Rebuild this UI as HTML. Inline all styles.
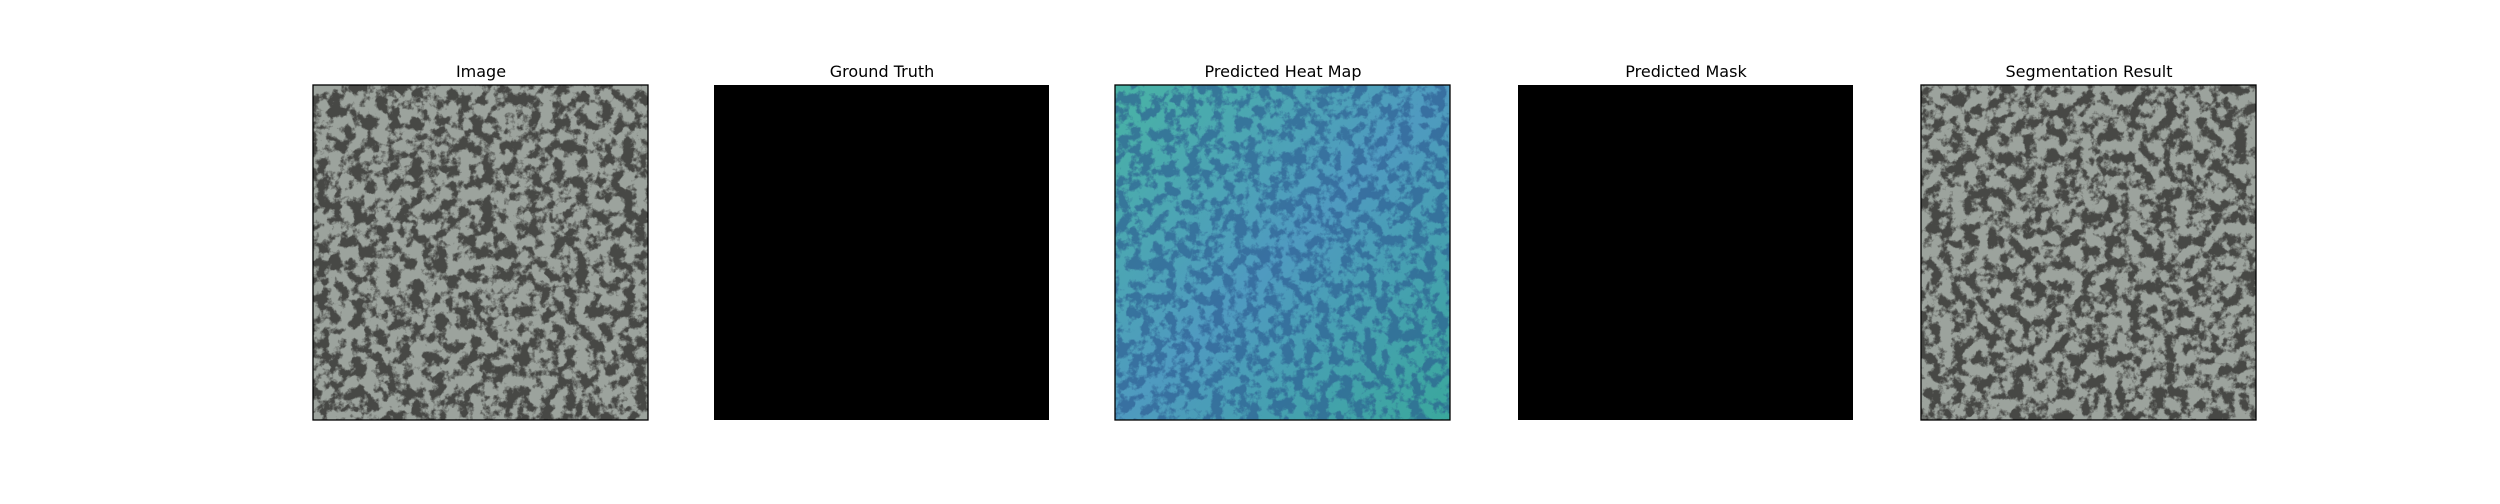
<!DOCTYPE html>
<html><head><meta charset="utf-8"><style>
body{margin:0;background:#fff;width:2500px;height:500px;overflow:hidden;font-family:"DejaVu Sans","Liberation Sans",sans-serif}
</style></head><body>
<svg width="2500" height="500" xmlns="http://www.w3.org/2000/svg">
<defs>
<filter id="tex" x="0" y="0" width="100%" height="100%" color-interpolation-filters="sRGB">
<feTurbulence type="fractalNoise" baseFrequency="0.085" numOctaves="4" seed="4"/>
<feColorMatrix type="matrix" values="0 0 0 0 0  0 0 0 0 0  0 0 0 0 0  3 0 0 0 -1.1"/>
<feComponentTransfer><feFuncA type="linear" slope="2.2" intercept="-0.5"/></feComponentTransfer>
<feColorMatrix type="matrix" values="0 0 0 0 0.25  0 0 0 0 0.25  0 0 0 0 0.24  0 0 0 0.92 0"/>
<feComposite in2="SourceGraphic" operator="over"/>
</filter>
<filter id="tex2" x="0" y="0" width="100%" height="100%" color-interpolation-filters="sRGB">
<feTurbulence type="fractalNoise" baseFrequency="0.085" numOctaves="4" seed="4"/>
<feColorMatrix type="matrix" values="0 0 0 0 0  0 0 0 0 0  0 0 0 0 0  3 0 0 0 -1.1"/>
<feComponentTransfer><feFuncA type="linear" slope="2.2" intercept="-0.5"/></feComponentTransfer>
<feColorMatrix type="matrix" values="0 0 0 0 0.16  0 0 0 0 0.33  0 0 0 0 0.55  0 0 0 0.6 0"/>
<feComposite in2="SourceGraphic" operator="over"/>
</filter>
<linearGradient id="hg" x1="0" y1="0" x2="1" y2="1">
<stop offset="0" stop-color="#48b3a4"/><stop offset="0.5" stop-color="#4f9ac0"/><stop offset="1" stop-color="#3aa89c"/>
</linearGradient>
</defs>
<g>
<text x="481" y="77" font-size="16" text-anchor="middle">Image</text>
<rect x="313" y="85" width="335" height="335" fill="#9ca39d" filter="url(#tex)"/>
<rect x="313" y="85" width="335" height="335" fill="none" stroke="#000" stroke-width="1.3"/>
</g>
<g>
<text x="882" y="77" font-size="16" text-anchor="middle">Ground Truth</text>
<rect x="714" y="85" width="335" height="335" fill="#000"/>
</g>
<g>
<text x="1283" y="77" font-size="16" text-anchor="middle">Predicted Heat Map</text>
<rect x="1115" y="85" width="335" height="335" fill="url(#hg)" filter="url(#tex2)"/>
<rect x="1115" y="85" width="335" height="335" fill="none" stroke="#000" stroke-width="1.3"/>
</g>
<g>
<text x="1686" y="77" font-size="16" text-anchor="middle">Predicted Mask</text>
<rect x="1518" y="85" width="335" height="335" fill="#000"/>
</g>
<g>
<text x="2089" y="77" font-size="16" text-anchor="middle">Segmentation Result</text>
<rect x="1921" y="85" width="335" height="335" fill="#9ca39d" filter="url(#tex)"/>
<rect x="1921" y="85" width="335" height="335" fill="none" stroke="#000" stroke-width="1.3"/>
</g>
</svg>
</body></html>
